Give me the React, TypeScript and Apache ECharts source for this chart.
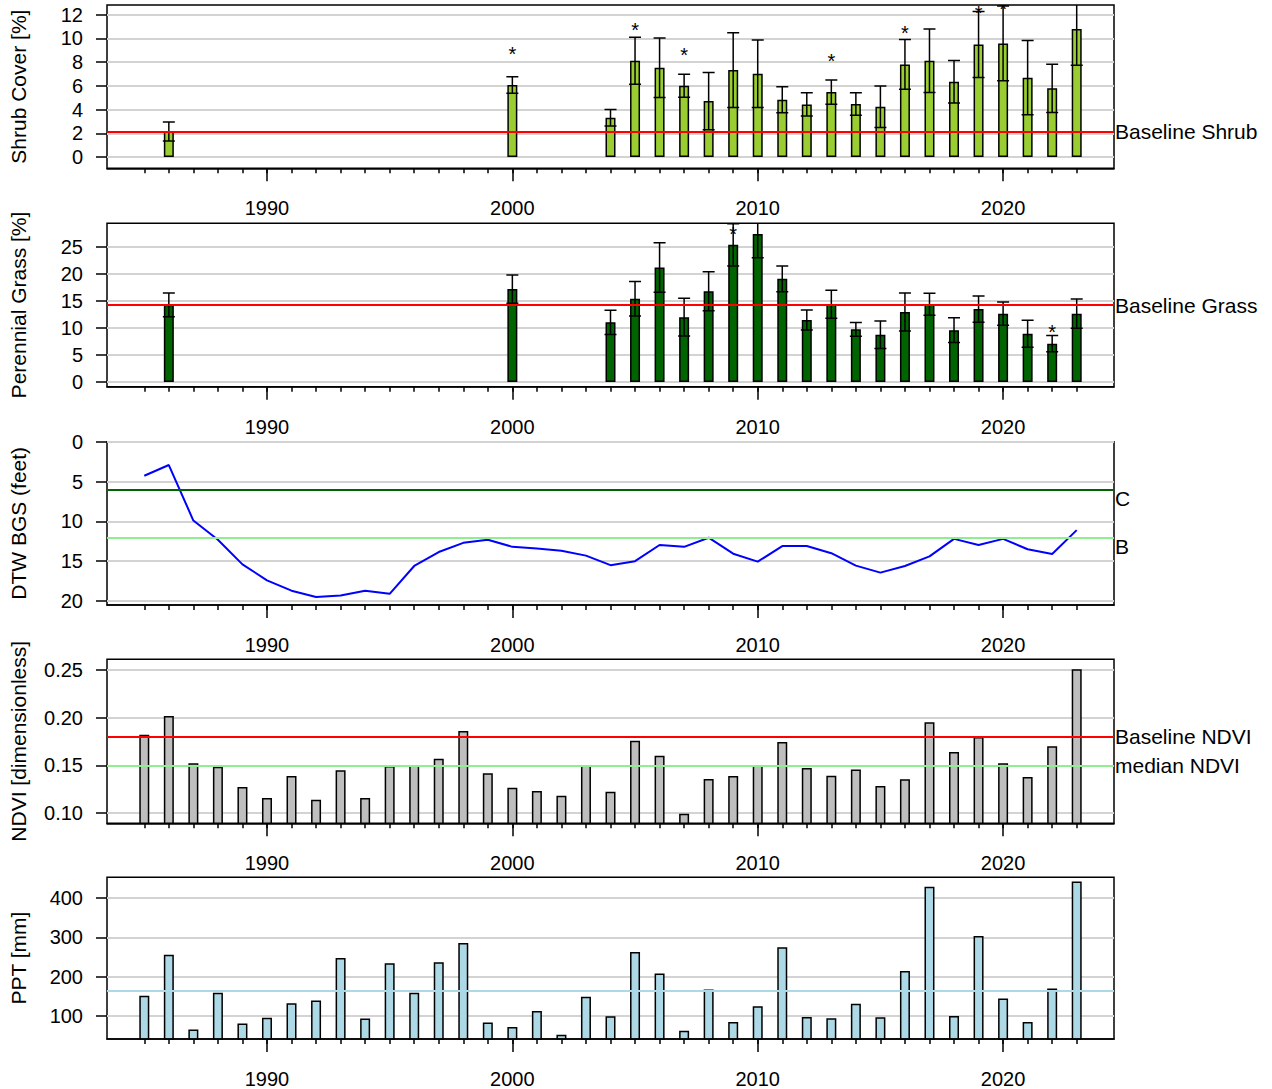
import React, { useEffect, useRef } from "react";
import * as echarts from "echarts";

const FONT = '"Liberation Sans", Arial, Helvetica, sans-serif';

// ---------------- data ----------------
const allYears = [
  1985, 1986, 1987, 1988, 1989, 1990, 1991, 1992, 1993, 1994, 1995, 1996, 1997,
  1998, 1999, 2000, 2001, 2002, 2003, 2004, 2005, 2006, 2007, 2008, 2009, 2010,
  2011, 2012, 2013, 2014, 2015, 2016, 2017, 2018, 2019, 2020, 2021, 2022, 2023,
];
const decadeYears = [1990, 2000, 2010, 2020];

const coverYears = [
  1986, 2000, 2004, 2005, 2006, 2007, 2008, 2009, 2010, 2011, 2012, 2013, 2014,
  2015, 2016, 2017, 2018, 2019, 2020, 2021, 2022, 2023,
];
const shrubMean = [
  2.15, 6.07, 3.31, 8.12, 7.53, 6.01, 4.72, 7.33, 7.02, 4.83, 4.44, 5.48, 4.47,
  4.24, 7.81, 8.12, 6.35, 9.49, 9.58, 6.69, 5.79, 10.79,
];
const shrubSE = [
  0.8, 0.7, 0.69, 1.98, 2.5, 0.97, 2.41, 3.16, 2.84, 1.1, 0.99, 1.02, 0.95,
  1.74, 2.1, 2.67, 1.8, 2.78, 3.15, 3.13, 2.03, 3.04,
];
const grassMean = [
  14.3, 17.2, 11.05, 15.4, 21.2, 12.0, 16.8, 25.4, 27.4, 19.1, 11.5, 14.4, 9.75,
  8.77, 12.96, 14.4, 9.6, 13.5, 12.65, 8.95, 7.1, 12.65,
];
const grassSE = [
  2.2, 2.6, 2.25, 3.2, 4.6, 3.5, 3.6, 3.9, 4.4, 2.4, 1.85, 2.6, 1.28, 2.55, 3.5,
  2.05, 2.28, 2.43, 2.15, 2.5, 1.52, 2.7,
];
const shrubStarYears = [2000, 2005, 2007, 2013, 2016, 2019, 2020];
const shrubStarY = [9.02, 11.04, 8.94, 8.4, 10.77, 12.45, 12.8];
const grassStarYears = [2009, 2022];
const grassStarY = [28.1, 10.06];

const dtw = [
  4.27, 2.93, 9.9, 12.3, 15.4, 17.4, 18.7, 19.5, 19.3, 18.7, 19.1, 15.6, 13.85,
  12.7, 12.3, 13.2, 13.4, 13.7, 14.3, 15.5, 15.0, 12.97, 13.2, 12.05, 14.06,
  15.06, 13.1, 13.1, 14.0, 15.56, 16.44, 15.6, 14.4, 12.2, 12.97, 12.2, 13.5,
  14.1, 11.1,
];
const ndvi = [
  0.1822, 0.2017, 0.1521, 0.1486, 0.1273, 0.1157, 0.1388, 0.114, 0.1448, 0.1157,
  0.1493, 0.15, 0.157, 0.186, 0.1416, 0.1266, 0.1231, 0.1182, 0.15, 0.1224,
  0.1759, 0.1601, 0.0993, 0.1357, 0.1388, 0.1503, 0.1745, 0.1472, 0.1392,
  0.1455, 0.1283, 0.1353, 0.1951, 0.164, 0.1797, 0.1521, 0.1378, 0.1699, 0.2507,
];
const ppt = [
  151.7, 255.8, 65.8, 159.2, 80.8, 95.8, 132.5, 139.2, 247.5, 93.3, 234.2, 159.2,
  236.7, 285.8, 83.3, 71.7, 112.5, 52.5, 149.2, 99.2, 262.5, 208.3, 62.5, 167.5,
  85.0, 125.0, 275.0, 97.5, 94.2, 130.8, 96.7, 214.2, 428.3, 100.0, 303.3,
  144.2, 85.0, 170.0, 441.7,
];

const shrubTicks = [0, 2, 4, 6, 8, 10, 12];
const grassTicks = [0, 5, 10, 15, 20, 25];
const dtwTicks = [0, 5, 10, 15, 20];
const ndviTicks = [0.1, 0.15, 0.2, 0.25];
const pptTicks = [100, 200, 300, 400];

const baselineShrub = 2.13;
const baselineGrass = 14.26;
const levelC = 6;
const levelB = 12;
const baselineNDVI = 0.1787;
const medianNDVI = 0.1472;
const medianPPT = 163.3;

// ---------------- layout ----------------
const X_MIN = 1983.48;
const X_MAX = 2024.52;
const GRID_LEFT = 106;
const GRID_WIDTH = 1008;
const panels = [
  { top: 5, height: 163.3, min: -0.95, max: 12.82, ticks: shrubTicks, name: "Shrub Cover [%]", inverse: false, dec: 0 },
  { top: 223.3, height: 163.4, min: -0.87, max: 29.39, ticks: grassTicks, name: "Perennial Grass [%]", inverse: false, dec: 0 },
  { top: 441.7, height: 163.3, min: 0, max: 20.5, ticks: dtwTicks, name: "DTW BGS (feet)", inverse: true, dec: 0 },
  { top: 659.3, height: 164, min: 0.0892, max: 0.2612, ticks: ndviTicks, name: "NDVI [dimensionless]", inverse: false, dec: 2 },
  { top: 877.3, height: 164.4, min: 41.5, max: 452.5, ticks: pptTicks, name: "PPT [mm]", inverse: false, dec: 0 },
];

const BLACK = "#000000";

function hline(value: number, color: string, label?: string, below = false) {
  return {
    yAxis: value,
    lineStyle: { color, width: 2, type: "solid" },
    label: label
      ? {
          show: true,
          position: "end",
          distance: 1,
          formatter: below ? "\n" + label : label,
          lineHeight: below ? 19 : 22,
          color: BLACK,
          fontSize: 21,
          fontFamily: FONT,
        }
      : { show: false },
  };
}

function markLines(lines: any[]) {
  return {
    silent: true,
    symbol: "none",
    animation: false,
    emphasis: { disabled: true },
    data: lines,
  };
}

function errorRender(params: any, api: any) {
  const x = api.value(0);
  const lo = api.value(1);
  const hi = api.value(2);
  const a = api.coord([x, hi]);
  const b = api.coord([x, lo]);
  const hw = 6;
  const st = { stroke: BLACK, lineWidth: 1.5 };
  return {
    type: "group",
    children: [
      { type: "line", shape: { x1: a[0], y1: a[1], x2: b[0], y2: b[1] }, style: st },
      { type: "line", shape: { x1: a[0] - hw, y1: a[1], x2: a[0] + hw, y2: a[1] }, style: st },
      { type: "line", shape: { x1: b[0] - hw, y1: b[1], x2: b[0] + hw, y2: b[1] }, style: st },
    ],
  };
}

function starRender(params: any, api: any) {
  const p = api.coord([api.value(0), api.value(1)]);
  return {
    type: "text",
    x: p[0],
    y: p[1] + 4,
    style: {
      text: "*",
      fill: BLACK,
      fontSize: 20,
      fontFamily: FONT,
      align: "center",
      verticalAlign: "middle",
    },
  };
}

function buildOption() {
  const grids = panels.map((p) => ({
    left: GRID_LEFT,
    width: GRID_WIDTH,
    top: p.top,
    height: p.height,
    show: true,
    borderColor: BLACK,
    borderWidth: 1.5,
    backgroundColor: "transparent",
    containLabel: false,
  }));

  const xAxes: any[] = [];
  panels.forEach((p, i) => {
    xAxes.push({
      gridIndex: i,
      type: "value",
      position: "bottom",
      min: X_MIN,
      max: X_MAX,
      z: 5,
      axisLine: { show: true, onZero: false, lineStyle: { color: BLACK, width: 1.5 } },
      axisTick: { show: true, customValues: allYears, length: 5, lineStyle: { color: BLACK, width: 1.5 } },
      axisLabel: {
        show: true,
        customValues: decadeYears,
        formatter: (v: number) => String(Math.round(v)),
        margin: 30,
        color: BLACK,
        fontSize: 20,
        fontFamily: FONT,
      },
      splitLine: { show: false },
    });
    xAxes.push({
      gridIndex: i,
      type: "value",
      position: "bottom",
      min: X_MIN,
      max: X_MAX,
      z: 5,
      axisLine: { show: false, onZero: false },
      axisTick: { show: true, customValues: decadeYears, length: 13, lineStyle: { color: BLACK, width: 1.5 } },
      axisLabel: { show: false },
      splitLine: { show: false },
    });
  });

  const yAxes = panels.map((p, i) => ({
    gridIndex: i,
    type: "value",
    min: p.min,
    max: p.max,
    inverse: p.inverse,
    name: p.name,
    nameLocation: "middle",
    nameGap: 78,
    nameRotate: 90,
    nameTextStyle: { color: BLACK, fontSize: 21, fontFamily: FONT },
    axisLine: { show: false },
    axisTick: { show: true, customValues: p.ticks, length: 11, lineStyle: { color: BLACK, width: 1.5 } },
    axisLabel: {
      show: true,
      customValues: p.ticks,
      formatter: (v: number) => v.toFixed(p.dec),
      margin: 24,
      color: BLACK,
      fontSize: 20,
      fontFamily: FONT,
    },
    splitLine: { show: true, lineStyle: { color: "#d3d3d3", width: 2 } },
  }));

  const barBase = {
    type: "bar",
    barWidth: 10,
    silent: true,
    animation: false,
  };

  const series: any[] = [
    // Panel 1: shrub cover
    {
      ...barBase,
      xAxisIndex: 0,
      yAxisIndex: 0,
      data: coverYears.map((y, i) => [y, shrubMean[i]]),
      itemStyle: { color: "#9ACD32", borderColor: BLACK, borderWidth: 1.5 },
      markLine: markLines([hline(baselineShrub, "#FF0000", "Baseline Shrub")]),
    },
    {
      type: "custom",
      xAxisIndex: 0,
      yAxisIndex: 0,
      clip: true,
      silent: true,
      renderItem: errorRender,
      data: coverYears.map((y, i) => [y, shrubMean[i] - shrubSE[i], shrubMean[i] + shrubSE[i]]),
      z: 4,
    },
    {
      type: "custom",
      xAxisIndex: 0,
      yAxisIndex: 0,
      clip: true,
      silent: true,
      renderItem: starRender,
      data: shrubStarYears.map((y, i) => [y, shrubStarY[i]]),
      z: 4,
    },
    // Panel 2: perennial grass
    {
      ...barBase,
      xAxisIndex: 2,
      yAxisIndex: 1,
      data: coverYears.map((y, i) => [y, grassMean[i]]),
      itemStyle: { color: "#006400", borderColor: BLACK, borderWidth: 1.5 },
      markLine: markLines([hline(baselineGrass, "#FF0000", "Baseline Grass")]),
    },
    {
      type: "custom",
      xAxisIndex: 2,
      yAxisIndex: 1,
      clip: true,
      silent: true,
      renderItem: errorRender,
      data: coverYears.map((y, i) => [y, grassMean[i] - grassSE[i], grassMean[i] + grassSE[i]]),
      z: 4,
    },
    {
      type: "custom",
      xAxisIndex: 2,
      yAxisIndex: 1,
      clip: true,
      silent: true,
      renderItem: starRender,
      data: grassStarYears.map((y, i) => [y, grassStarY[i]]),
      z: 4,
    },
    // Panel 3: depth to water
    {
      type: "line",
      xAxisIndex: 4,
      yAxisIndex: 2,
      data: allYears.map((y, i) => [y, dtw[i]]),
      showSymbol: false,
      symbol: "none",
      silent: true,
      lineStyle: { color: "#0000FF", width: 2 },
      markLine: markLines([
        hline(levelC, "#006400", "C", true),
        hline(levelB, "#90EE90", "B", true),
      ]),
      z: 3,
    },
    // Panel 4: NDVI
    {
      ...barBase,
      xAxisIndex: 6,
      yAxisIndex: 3,
      data: allYears.map((y, i) => [y, ndvi[i]]),
      itemStyle: { color: "#BEBEBE", borderColor: BLACK, borderWidth: 1.5 },
      markLine: markLines([
        hline(baselineNDVI, "#FF0000", "Baseline NDVI"),
        hline(medianNDVI, "#90EE90", "median NDVI"),
      ]),
    },
    // Panel 5: precipitation
    {
      ...barBase,
      xAxisIndex: 8,
      yAxisIndex: 4,
      data: allYears.map((y, i) => [y, ppt[i]]),
      itemStyle: { color: "#ADD8E6", borderColor: BLACK, borderWidth: 1.5 },
      markLine: markLines([hline(medianPPT, "#ADD8E6")]),
    },
  ];

  return {
    animation: false,
    backgroundColor: "#ffffff",
    textStyle: { fontFamily: FONT },
    grid: grids,
    xAxis: xAxes,
    yAxis: yAxes,
    series,
  };
}

export default function App() {
  const ref = useRef<HTMLDivElement>(null);
  useEffect(() => {
    if (!ref.current) return;
    const chart = echarts.init(ref.current, undefined, { renderer: "svg" });
    chart.setOption(buildOption() as any);
    return () => chart.dispose();
  }, []);
  return (
    <div
      ref={ref}
      style={{ position: "absolute", left: 0, top: 0, width: 1272, height: 1089, background: "#fff" }}
    />
  );
}
